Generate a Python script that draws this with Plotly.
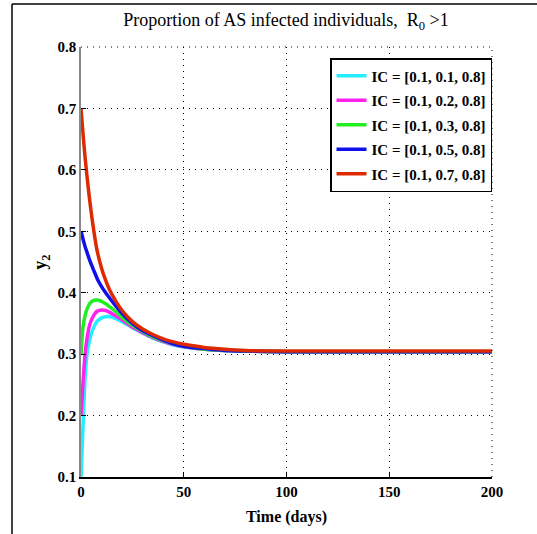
import plotly.graph_objects as go

t = [0, 1, 2, 3, 4, 5, 6, 7, 8, 10, 12, 14, 17, 20, 25, 30, 35, 40, 45, 50, 60, 70, 80, 100, 120, 150, 200]

y_ic1 = [0.10, 0.185, 0.262, 0.302, 0.320, 0.333, 0.342, 0.349, 0.354, 0.359, 0.361, 0.361, 0.358, 0.353, 0.343, 0.334, 0.326, 0.320, 0.315, 0.312, 0.308, 0.306, 0.305, 0.304, 0.304, 0.304, 0.304]
y_ic2 = [0.20, 0.255, 0.300, 0.327, 0.345, 0.355, 0.362, 0.367, 0.370, 0.372, 0.371, 0.368, 0.362, 0.356, 0.344, 0.335, 0.327, 0.321, 0.316, 0.312, 0.308, 0.306, 0.305, 0.304, 0.304, 0.304, 0.304]
y_ic3 = [0.30, 0.345, 0.363, 0.374, 0.381, 0.385, 0.387, 0.388, 0.388, 0.386, 0.382, 0.377, 0.369, 0.360, 0.347, 0.337, 0.328, 0.322, 0.317, 0.313, 0.308, 0.306, 0.305, 0.304, 0.304, 0.304, 0.304]
y_ic5 = [0.50, 0.487, 0.475, 0.465, 0.455, 0.446, 0.438, 0.430, 0.422, 0.410, 0.400, 0.391, 0.378, 0.366, 0.350, 0.338, 0.330, 0.323, 0.317, 0.313, 0.309, 0.306, 0.305, 0.304, 0.304, 0.304, 0.304]
y_ic7 = [0.70, 0.658, 0.620, 0.587, 0.557, 0.530, 0.506, 0.484, 0.466, 0.440, 0.420, 0.404, 0.386, 0.371, 0.353, 0.341, 0.332, 0.325, 0.320, 0.316, 0.311, 0.308, 0.306, 0.305, 0.305, 0.305, 0.305]

names = ["IC = [0.1, 0.1, 0.8]", "IC = [0.1, 0.2, 0.8]", "IC = [0.1, 0.3, 0.8]",
         "IC = [0.1, 0.5, 0.8]", "IC = [0.1, 0.7, 0.8]"]
series = [y_ic1, y_ic2, y_ic3, y_ic5, y_ic7]
colors = ["#22eeff", "#ff22ee", "#22ee22", "#1010ee", "#dd2a00"]

x_ticks = [0, 50, 100, 150, 200]
y_ticks = [0.1, 0.2, 0.3, 0.4, 0.5, 0.6, 0.7, 0.8]

FONT = "Liberation Serif"

fig = go.Figure()
for i, (name, ys, c) in enumerate(zip(names, series, colors)):
    fig.add_trace(go.Scatter(x=t, y=ys, mode="lines", name=name, legendgroup=f"g{i}",
                             line=dict(color=c, width=3.5, shape="spline", smoothing=0.6)))

L, R, T, B = 81, 45, 47, 57
W, H = 537, 534
pw, ph = W - L - R, H - T - B

def px_to_paper_x(px):
    return (px - L) / pw

def px_to_paper_y(py):
    return (H - B - py) / ph

DOT = "1px,5px"

fig.update_layout(
    width=W, height=H,
    margin=dict(l=L, r=R, t=T, b=B),
    paper_bgcolor="white", plot_bgcolor="white",
    font=dict(family=FONT, color="black"),
    title=dict(text="Proportion of AS infected individuals,  R<sub>0</sub> >1",
               x=px_to_paper_x(286), xref="paper", xanchor="center",
               y=1 - 20 / H, yanchor="middle",
               font=dict(family=FONT, size=18, color="black")),
    showlegend=True,
    legend=dict(x=px_to_paper_x(330), y=px_to_paper_y(58), xanchor="left", yanchor="top",
                bgcolor="white", bordercolor="black", borderwidth=1.5,
                font=dict(family=FONT, size=15, color="black", weight="bold"),
                tracegroupgap=2),
    xaxis=dict(range=[0, 200], tickvals=x_ticks, ticktext=[str(v) for v in x_ticks],
               showgrid=True, gridcolor="black", griddash=DOT, gridwidth=1,
               showline=True, linecolor="black", linewidth=1.5,
               ticks="inside", ticklen=5, tickcolor="black",
               tickfont=dict(family=FONT, size=15, weight="bold"),
               zeroline=False,
               title=dict(text="Time (days)", standoff=12,
                          font=dict(family=FONT, size=16, weight="bold"))),
    yaxis=dict(range=[0.1, 0.8], tickvals=y_ticks, ticktext=[f"{v:.1f}" for v in y_ticks],
               showgrid=True, gridcolor="black", griddash=DOT, gridwidth=1,
               showline=True, linecolor="#888888", linewidth=1.5,
               ticks="inside", ticklen=5, tickcolor="black",
               tickfont=dict(family=FONT, size=15, weight="bold"),
               zeroline=False,
               title=dict(text="y<sub>2</sub>", standoff=6,
                          font=dict(family=FONT, size=18, weight="bold"))),
)

# outer figure frame (left and top edge lines)
fig.add_shape(type="line", xref="paper", yref="paper",
              x0=px_to_paper_x(12), x1=px_to_paper_x(12),
              y0=px_to_paper_y(4), y1=px_to_paper_y(534),
              line=dict(color="black", width=1.5))
fig.add_shape(type="line", xref="paper", yref="paper",
              x0=px_to_paper_x(12), x1=px_to_paper_x(537),
              y0=px_to_paper_y(4), y1=px_to_paper_y(4),
              line=dict(color="black", width=1.5))
# dotted top and right box edges
fig.add_shape(type="line", xref="paper", yref="paper", x0=0, x1=1, y0=1, y1=1,
              line=dict(color="black", width=1, dash=DOT))
fig.add_shape(type="line", xref="paper", yref="paper", x0=1, x1=1, y0=0, y1=1,
              line=dict(color="black", width=1, dash=DOT))

fig.write_html("out.html")
